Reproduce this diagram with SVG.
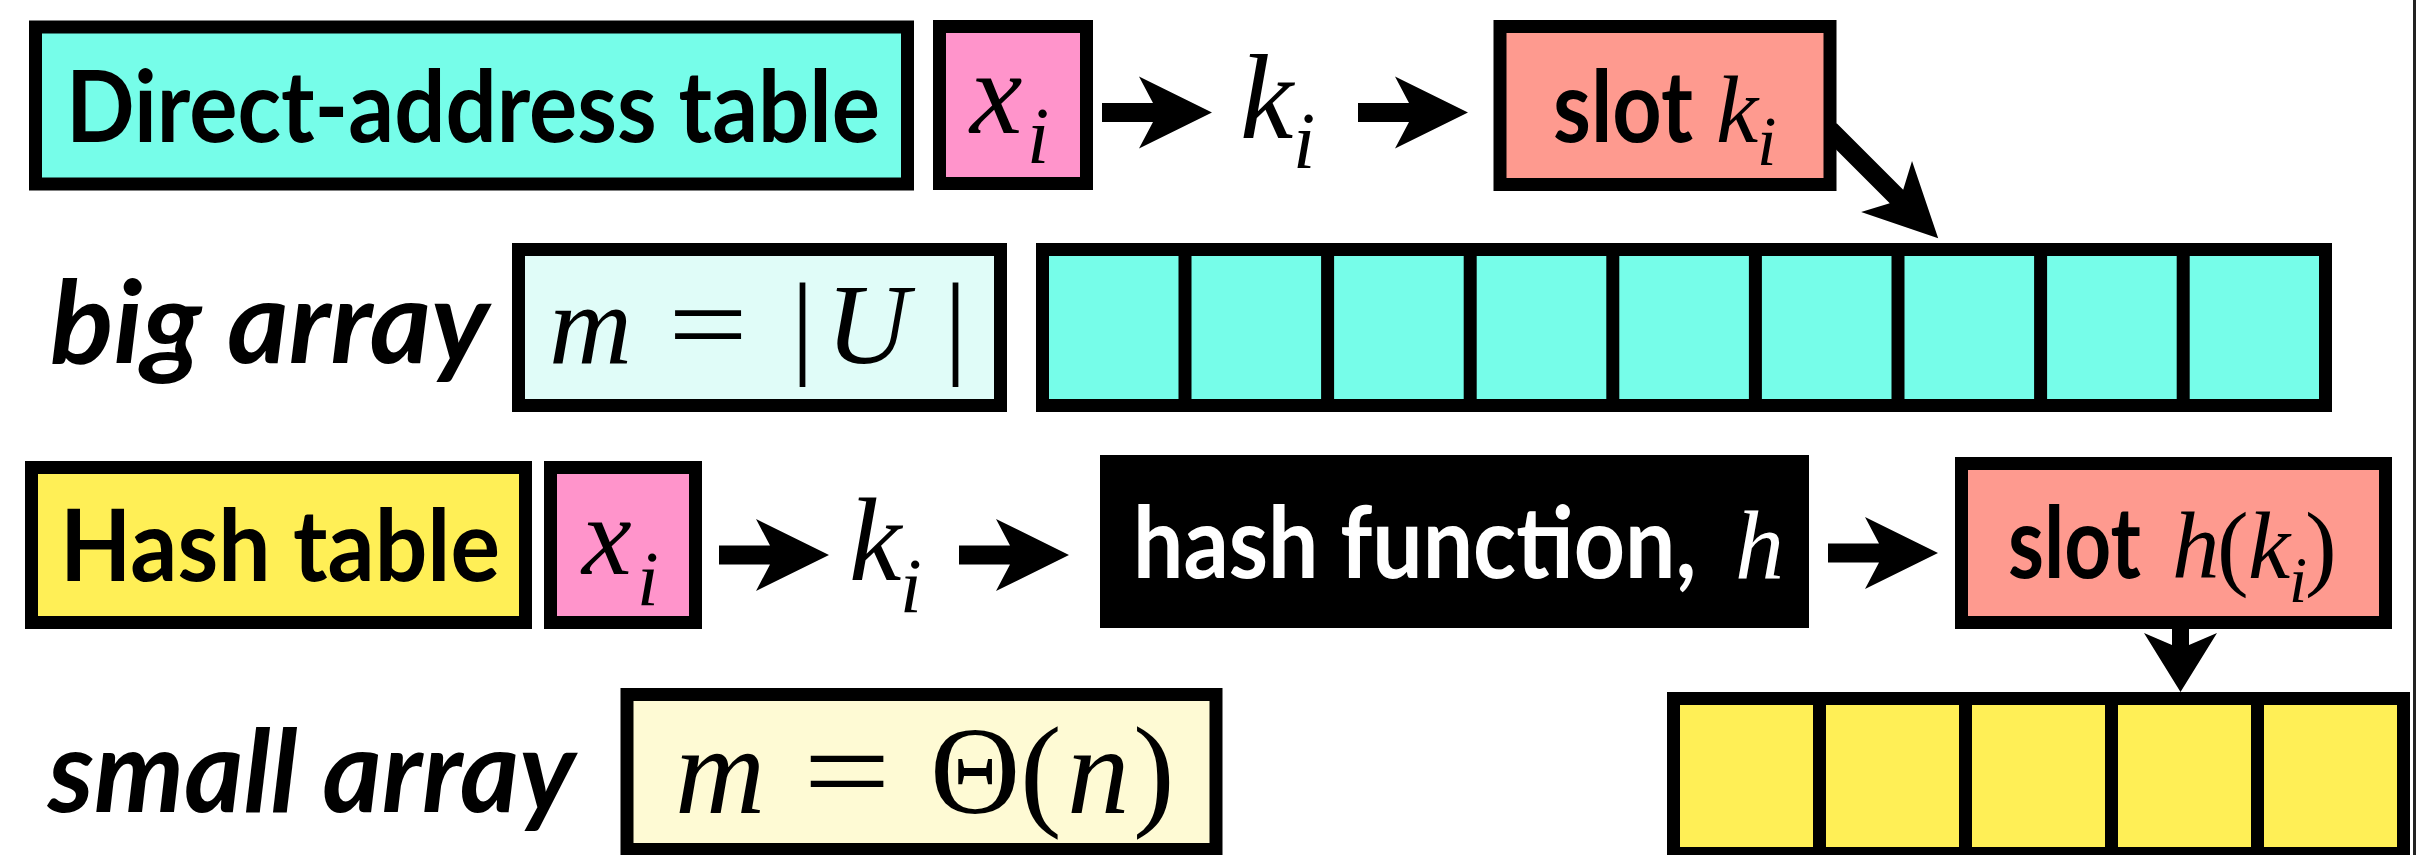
<svg xmlns="http://www.w3.org/2000/svg" width="2418" height="855" viewBox="0 0 2418 855">
<style>
.box{stroke:#000;stroke-width:13}
.sans{font-family:Lato,"Liberation Sans",sans-serif;font-weight:bold;fill:#000}
.it{font-family:Lato,"Liberation Sans",sans-serif;font-weight:bold;font-style:italic;fill:#000}
.math{font-family:"Liberation Serif",serif;font-style:italic;font-weight:normal;fill:#000}
.rm{font-family:"Liberation Serif",serif;fill:#000}
.white{fill:#fff}
.cyan{fill:#76FDE9}
.pink{fill:#FF94CB}
.salmon{fill:#FE9A8F}
.yellow{fill:#FFEF56}
.arrow{fill:#000}
</style>
<defs>
<path id="harrow" d="M0,-9.5 H51 L37,-36 L110,0 L37,36 L51,9.5 H0 Z"/>
</defs>
<rect width="2418" height="855" fill="#fff"/>
<rect x="2413" y="0" width="3" height="855" fill="#222"/>

<g id="connectors" class="arrow">
  <use href="#harrow" transform="translate(1102,112.5)"/>
  <use href="#harrow" transform="translate(1358,112.5)"/>
  <path d="M0,-9.5 H94 L80,-36 L153,0 L80,36 L94,9.5 H0 Z" transform="translate(1830,130) rotate(45)"/>
  <use href="#harrow" transform="translate(719,555)"/>
  <use href="#harrow" transform="translate(959,555)"/>
  <use href="#harrow" transform="translate(1828,553)"/>
  <path d="M2172,620 H2189 V645 L2217,633 L2180.5,692 L2144,633 L2172,645 Z"/>
</g>

<g id="direct-address-table">
  <rect class="box cyan" x="35.5" y="27" width="872" height="157"/>
  <text class="sans" x="66" y="142" font-size="100" textLength="814" lengthAdjust="spacingAndGlyphs">Direct-address table</text>
</g>
<g id="xi-top">
  <rect class="box pink" x="939.5" y="26.5" width="147" height="157"/>
  <text class="math" x="970" y="133" font-size="118">x</text>
  <text class="math" x="1027" y="163" font-size="80">i</text>
</g>
<g id="ki-top">
  <text class="math" x="1240" y="138" font-size="120">k</text>
  <text class="math" x="1293" y="168" font-size="80">i</text>
</g>
<g id="slot-ki">
  <rect class="box salmon" x="1500" y="26.5" width="330" height="158"/>
  <text class="sans" x="1553" y="142" font-size="100" textLength="140" lengthAdjust="spacingAndGlyphs">slot</text>
  <text class="math" x="1716" y="142" font-size="95">k</text>
  <text class="math" x="1757" y="165" font-size="70">i</text>
</g>

<g id="big-array-label">
  <text class="it" x="50" y="363" font-size="115" textLength="439" lengthAdjust="spacingAndGlyphs">big array</text>
</g>
<g id="m-U">
  <rect class="box" fill="#E0FCF8" x="518.5" y="249.5" width="482" height="156"/>
  <text class="math" x="549" y="363" font-size="115">m</text>
  <text class="rm" x="668" y="363" font-size="115" textLength="80" lengthAdjust="spacingAndGlyphs">=</text>
  <text class="rm" x="791" y="363" font-size="115">|</text>
  <text class="math" x="826" y="363" font-size="115">U</text>
  <text class="rm" x="944" y="363" font-size="115">|</text>
</g>
<g id="big-array">
  <rect class="box cyan" x="1042.5" y="249.5" width="1283" height="156"/>
  <path class="box" fill="none" d="M1185,249.5V405.5M1327.6,249.5V405.5M1470.2,249.5V405.5M1612.8,249.5V405.5M1755.4,249.5V405.5M1898,249.5V405.5M2040.6,249.5V405.5M2183.2,249.5V405.5"/>
</g>

<g id="hash-table">
  <rect class="box yellow" x="31.5" y="467.5" width="494" height="155"/>
  <text class="sans" x="60" y="581" font-size="100" textLength="440" lengthAdjust="spacingAndGlyphs">Hash table</text>
</g>
<g id="xi-bottom">
  <rect class="box pink" x="550.5" y="467.5" width="145" height="155"/>
  <text class="math" x="582" y="574" font-size="112">x</text>
  <text class="math" x="637" y="605" font-size="78">i</text>
</g>
<g id="ki-bottom">
  <text class="math" x="849" y="580" font-size="118">k</text>
  <text class="math" x="900" y="612" font-size="78">i</text>
</g>
<g id="hash-function">
  <rect x="1100" y="455" width="709" height="173" fill="#000"/>
  <text class="sans white" transform="translate(1133,578) scale(0.9,1)" font-size="100" textLength="626" lengthAdjust="spacingAndGlyphs">hash function,</text>
  <text class="math white" x="1735" y="578" font-size="98">h</text>
</g>
<g id="slot-hki">
  <rect class="box salmon" x="1961.5" y="463.5" width="424" height="159"/>
  <text class="sans" x="2008" y="578" font-size="100" textLength="133" lengthAdjust="spacingAndGlyphs">slot</text>
  <text class="math" x="2172" y="578" font-size="95">h</text>
  <text class="rm" x="2217" y="578" font-size="95">(</text>
  <text class="math" x="2248" y="578" font-size="95">k</text>
  <text class="math" x="2289" y="602" font-size="65">i</text>
  <text class="rm" x="2305" y="578" font-size="95">)</text>
</g>

<g id="small-array-label">
  <text class="it" x="48" y="812" font-size="115" textLength="527" lengthAdjust="spacingAndGlyphs">small array</text>
</g>
<g id="m-theta-n">
  <rect class="box" fill="#FEFAD4" x="627" y="694.5" width="589" height="155"/>
  <text class="math" x="675" y="813" font-size="125">m</text>
  <text class="rm" x="803" y="813" font-size="125" textLength="88" lengthAdjust="spacingAndGlyphs">=</text>
  <text class="rm" x="930" y="813" font-size="125">Θ</text>
  <text class="rm" x="1020" y="813" font-size="125">(</text>
  <text class="math" x="1067" y="813" font-size="125">n</text>
  <text class="rm" x="1133" y="813" font-size="125">)</text>
</g>
<g id="small-array">
  <rect class="box yellow" x="1673.5" y="698.5" width="730" height="155"/>
  <path class="box" fill="none" d="M1819.5,698.5V853.5M1965.5,698.5V853.5M2111.5,698.5V853.5M2257.5,698.5V853.5"/>
</g>
</svg>
